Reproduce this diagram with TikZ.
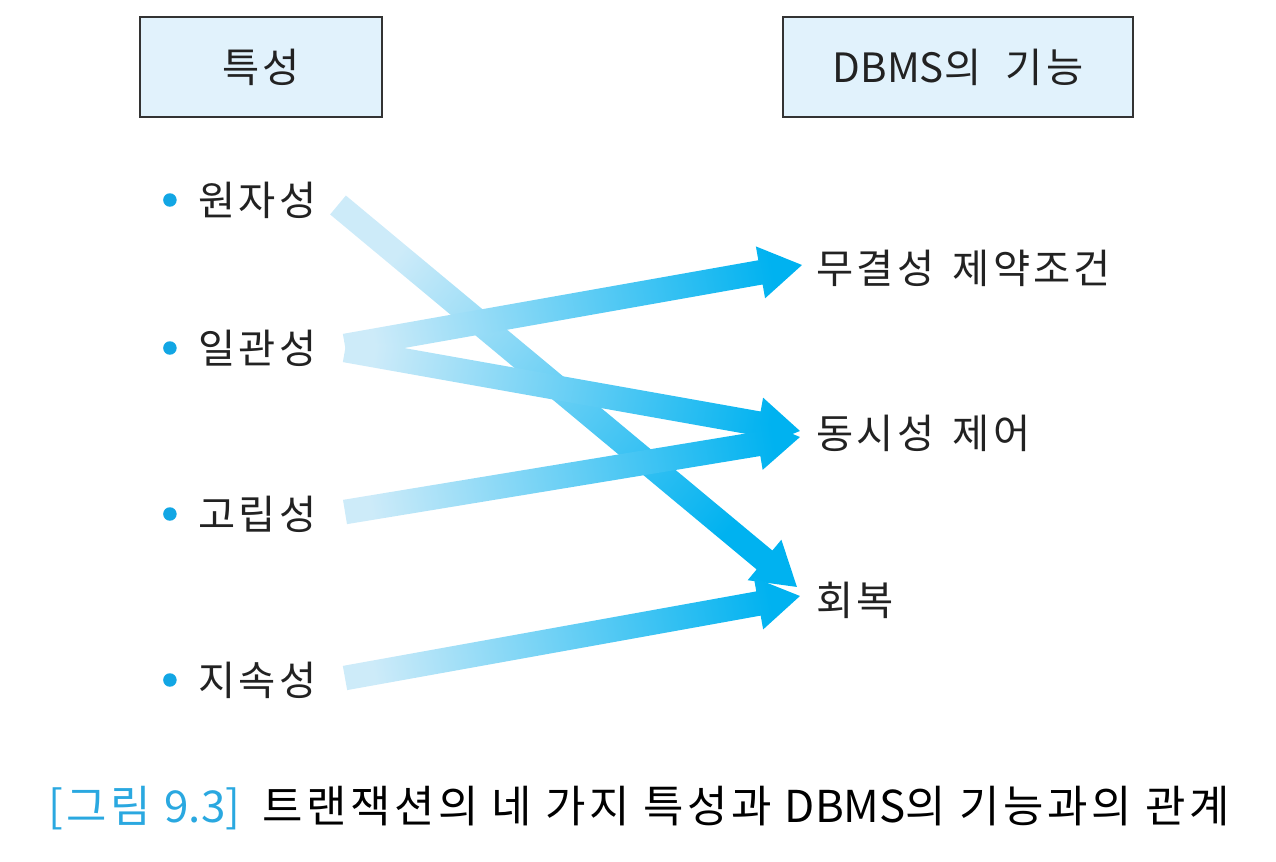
\documentclass[tikz,border=0pt]{standalone}
\usepackage{fontspec}
\setmainfont{Noto Sans CJK KR}
\newfontfamily\krlabel[LetterSpace=8]{Noto Sans CJK KR}
\newfontfamily\krcap[LetterSpace=8]{Noto Sans CJK KR}
\usetikzlibrary{positioning}
\usetikzlibrary{calc}

\definecolor{hdrfill}{HTML}{E1F2FC}
\definecolor{arrdark}{HTML}{00B2F0}
\definecolor{arrlight}{HTML}{CDEBF9}
\definecolor{dotblue}{HTML}{12A6E4}
\definecolor{capblue}{HTML}{2AA8E0}
\definecolor{txtgray}{HTML}{222222}

% fat shaded arrow from #1 to #2
\newcommand{\fatarrow}[2]{%
  \path let \p1=(#1), \p2=(#2), \n1={atan2(\y2-\y1,\x2-\x1)}, \n2={veclen(\x2-\x1,\y2-\y1)} in
    \pgfextra{\xdef\faang{\n1}\xdef\falen{\n2}};
  \pgfmathsetmacro{\faangv}{\faang}
  \pgfmathsetmacro{\falenv}{\falen}
  \pgfmathsetmacro{\fashade}{\faangv+90}
  \pgfmathsetmacro{\faback}{\falenv-24}
  \shade[shift={(#1)}, rotate=\faangv, top color=arrlight, bottom color=arrdark, shading angle=\fashade]
    (0pt,-7pt) -- (\faback pt,-7pt) -- (\faback pt,-15pt) -- (\falenv pt,0pt)
    -- (\faback pt,15pt) -- (\faback pt,7pt) -- (0pt,7pt) -- cycle;
}

\begin{document}
\begin{tikzpicture}[
        x=0.02cm, y=-0.02cm,
        every node/.style={font=\krlabel\fontsize{23}{27}\selectfont, text=txtgray},
        header/.style={rectangle, draw=black!80, line width=1.1pt, fill=hdrfill, minimum height=2cm},
        prop/.style={anchor=west, inner sep=0pt},
        func/.style={anchor=west, inner sep=0pt},
        dot/.style={circle, fill=dotblue, inner sep=0pt, minimum size=0.27cm}
    ]
    \useasboundingbox (0,0) rectangle (1276,862);

    % Headers
    \node[header, minimum width=4.84cm] (hprop) at (261,67) {특성};
    \node[header, minimum width=7cm] (hfunc) at (958,67) {{\rmfamily DBMS}의\hspace{0.3em} 기능};

    % Properties
    \node[prop] (atom) at (198,200) {원자성};
    \node[prop] (cons) at (198,348) {일관성};
    \node[prop] (isol) at (198,514) {고립성};
    \node[prop] (dura) at (198,680) {지속성};
    \foreach \p in {atom, cons, isol, dura}
        \node[dot, left=0.42cm of \p] (\p-dot) {};

    % DBMS functions
    \node[func] (integ) at (816,268) {무결성\hspace{0.15em} 제약조건};
    \node[func] (conc) at (816,433) {동시성\hspace{0.15em} 제어};
    \node[func] (recov) at (816,600) {회복};

    % Arrow ends
    \coordinate (atom-out) at (338,205);
    \coordinate (cons-out1) at (345,346);
    \coordinate (cons-out2) at (345,350);
    \coordinate (isol-out) at (345,512);
    \coordinate (dura-out) at (345,678);
    \coordinate (integ-in) at (802,265);
    \coordinate (conc-in1) at (800,431);
    \coordinate (conc-in2) at (800,437);
    \coordinate (recov-in1) at (797,587);
    \coordinate (recov-in2) at (800,596);

    % Arrows
    \fatarrow{atom-out}{recov-in1}
    \fatarrow{cons-out1}{integ-in}
    \fatarrow{cons-out2}{conc-in1}
    \fatarrow{isol-out}{conc-in2}
    \fatarrow{dura-out}{recov-in2}

    % Caption
    \node[font=\krcap\fontsize{25}{29}\selectfont, text=black] (cap) at (639,808) {{\color{capblue}[그림 {\rmfamily 9.3}]}\hspace{0.5em}트랜잭션의 네 가지 특성과 {\rmfamily DBMS}의 기능과의 관계};
\end{tikzpicture}
\end{document}
